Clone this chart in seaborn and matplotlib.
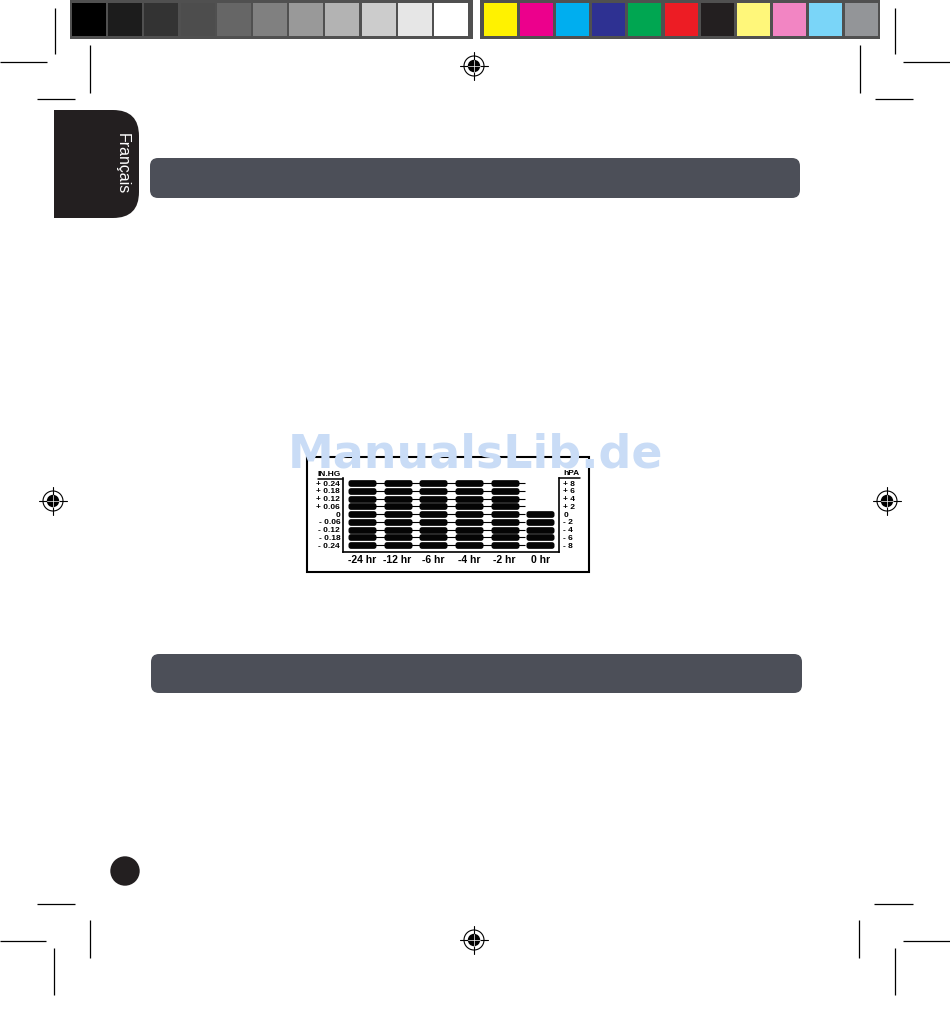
import numpy as np
import pandas as pd
import matplotlib
matplotlib.use("Agg")
import matplotlib.pyplot as plt
import seaborn as sns
from matplotlib.patches import FancyBboxPatch, Rectangle, Circle
from matplotlib.path import Path

# ---------------- data ----------------
hours = ['-24 hr', '-12 hr', '-6 hr', '-4 hr', '-2 hr', '0 hr']
top_inhg = [0.24, 0.24, 0.24, 0.24, 0.24, 0.0]
inhg_levels = [0.24, 0.18, 0.12, 0.06, 0.0, -0.06, -0.12, -0.18, -0.24]
inhg_labels = ['+ 0.24', '+ 0.18', '+ 0.12', '+ 0.06', '0',
               '- 0.06', '- 0.12', '- 0.18', '- 0.24']
hpa_labels = ['+ 8', '+ 6', '+ 4', '+ 2', '0', '- 2', '- 4', '- 6', '- 8']
gray_swatches = ['#000000', '#1c1c1c', '#333333', '#4d4d4d', '#666666', '#808080',
                 '#999999', '#b3b3b3', '#cccccc', '#e6e6e6', '#ffffff']
color_swatches = ['#fff200', '#ec008c', '#00aeef', '#2e3192', '#00a651', '#ed1c24',
                  '#231f20', '#fff77a', '#f285c3', '#7ad5f8', '#939598']
page_language = 'Français'
watermark = 'ManualsLib.de'

# ---------------- theme ----------------
sns.set_theme(style='white')
plt.rcParams['font.family'] = ['Liberation Sans', 'DejaVu Sans']

W, H = 950, 1018
fig = plt.figure(figsize=(W / 100, H / 100), dpi=100)
fig.patch.set_facecolor('white')

bg = fig.add_axes([0, 0, 1, 1])
bg.set_xlim(0, W)
bg.set_ylim(H, 0)
bg.axis('off')

# colour bars at the top
bg.add_patch(Rectangle((70, 0), 403, 39, fc='#505050', ec='none'))
bg.add_patch(Rectangle((480, 0), 400, 39, fc='#505050', ec='none'))
gx = 72 + 36.2 * np.arange(len(gray_swatches))
bg.bar(gx, 33, bottom=3, width=34, align='edge', color=gray_swatches, linewidth=0)
cx = 484 + 36.1 * np.arange(len(color_swatches))
bg.bar(cx, 33, bottom=3, width=33, align='edge', color=color_swatches, linewidth=0)

# crop marks
crop = [((55, 55), (8, 54)), ((0, 47), (62, 62)), ((90, 90), (45, 93)), ((37, 75), (99, 99)),
        ((895, 895), (8, 54)), ((903, 950), (62, 62)), ((860, 860), (45, 93)), ((875, 913), (99, 99)),
        ((37, 75), (904, 904)), ((0, 46), (941, 941)), ((54, 54), (948, 995)), ((90, 90), (920, 958)),
        ((874, 913), (904, 904)), ((903, 950), (941, 941)), ((895, 895), (948, 995)), ((859, 859), (920, 958))]
for xs, ys in crop:
    bg.plot(xs, ys, color='black', lw=0.9, solid_capstyle='butt')


def reg_mark(x, y):
    bg.add_patch(Circle((x, y), 10, fc='none', ec='black', lw=0.8))
    bg.add_patch(Circle((x, y), 6.2, fc='black', ec='none'))
    bg.plot([x - 14, x + 14], [y, y], color='black', lw=0.8)
    bg.plot([x, x], [y - 14, y + 14], color='black', lw=0.8)
    bg.plot([x - 6, x + 6], [y, y], color='white', lw=0.5)
    bg.plot([x, x], [y - 6, y + 6], color='white', lw=0.5)


for (rx, ry) in [(474, 66), (53, 501), (887, 501), (474, 940)]:
    reg_mark(rx, ry)

# language tab
bg.add_patch(FancyBboxPatch((10, 110), 129, 108, boxstyle='round,pad=0,rounding_size=26',
                            fc='#231f20', ec='none'))
bg.add_patch(Rectangle((0, 104), 54, 120, fc='white', ec='none'))
bg.text(122, 164, page_language, rotation=270, color='white', fontsize=11.5,
        ha='center', va='center')

# section header bars
bg.add_patch(FancyBboxPatch((150, 158), 650, 40, boxstyle='round,pad=0,rounding_size=8',
                            fc='#4c4f58', ec='none'))
bg.add_patch(FancyBboxPatch((151, 654), 651, 39, boxstyle='round,pad=0,rounding_size=8',
                            fc='#4c4f58', ec='none'))

# page number dot
bg.add_patch(Circle((125, 871), 14.7, fc='#231f20', ec='none'))

# chart frame and side headings
bg.add_patch(Rectangle((307, 457), 282, 115, fc='none', ec='black', lw=1.5))
bg.plot([318, 343], [479, 479], color='black', lw=1.1)
bg.plot([559, 580], [478, 478], color='black', lw=1.1)
bg.text(318, 476, 'IN.HG', fontsize=6, fontweight='bold', color='black')
bg.text(563, 475, 'hPA', fontsize=6, fontweight='bold', color='black')

# watermark
bg.text(476, 467, watermark, fontsize=33, fontweight='bold', color='#c9dcf6',
        family='DejaVu Sans', ha='center', va='baseline', zorder=20)

# ---------------- chart ----------------
x0, x1, y0, y1 = 343, 559, 478, 552
ax = fig.add_axes([x0 / W, 1 - y1 / H, (x1 - x0) / W, (y1 - y0) / H])
ax.set_facecolor('none')

rows = []
for i, (h, t) in enumerate(zip(hours, top_inhg)):
    for lv in inhg_levels:
        if lv <= t + 1e-9:
            rows.append({'hour': h, 'pos': i, 'inhg': lv})
seg = pd.DataFrame(rows)


def stadium(hw=0.5, hh=0.12, r=0.09, n=8):
    pts = []
    for ccx, ccy, a0 in [(hw - r, hh - r, 0), (-hw + r, hh - r, 90),
                         (-hw + r, -hh + r, 180), (hw - r, -hh + r, 270)]:
        for a in np.linspace(a0, a0 + 90, n):
            pts.append((ccx + r * np.cos(np.radians(a)), ccy + r * np.sin(np.radians(a))))
    pts.append(pts[0])
    return Path(pts, closed=True)


ax.hlines(inhg_levels, 0, 4.57, color='black', lw=0.8, zorder=1)
sns.scatterplot(data=seg, x='pos', y='inhg', marker=stadium(), s=(28 * 0.72) ** 2,
                color='#050505', linewidth=0, ax=ax, zorder=3, legend=False)

ax.set_xlim(-0.53, 5.52)
ax.set_ylim(-0.294, 0.279)
ax.set_xticks(range(len(hours)))
ax.set_xticklabels(hours, fontsize=7.5, fontweight='bold')
ax.set_yticks(inhg_levels)
ax.set_yticklabels(inhg_labels, fontsize=6, fontweight='bold')
ax.tick_params(axis='x', length=0, pad=2, colors='black')
ax.tick_params(axis='y', length=0, pad=2, colors='black')
ax.set_xlabel('')
ax.set_ylabel('')
for side in ['left', 'right', 'bottom']:
    ax.spines[side].set_visible(True)
    ax.spines[side].set_color('black')
    ax.spines[side].set_linewidth(1.2)
ax.spines['top'].set_visible(False)

ax2 = ax.twinx()
ax2.set_ylim(ax.get_ylim())
ax2.set_yticks(inhg_levels)
ax2.set_yticklabels(hpa_labels, fontsize=6, fontweight='bold')
ax2.tick_params(axis='y', length=0, pad=3, colors='black')
for s in ax2.spines.values():
    s.set_visible(False)
ax2.grid(False)
ax.grid(False)

fig.savefig('out.png', dpi=100, facecolor='white')
